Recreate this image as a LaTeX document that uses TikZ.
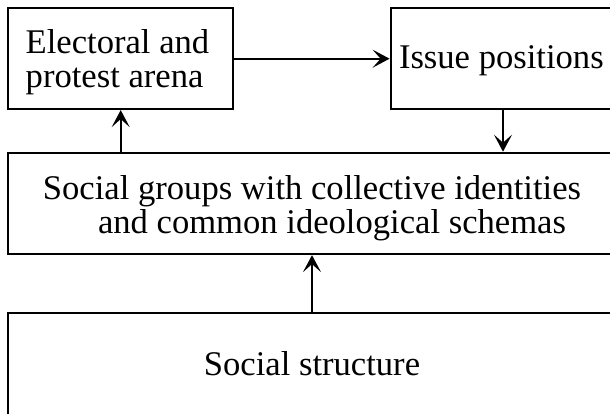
\documentclass[tikz,border=0pt]{standalone}
\usepackage{fontspec}
\setmainfont{Liberation Serif}
\usetikzlibrary{arrows.meta, positioning, calc}

\begin{document}
\begin{tikzpicture}[x=0.5pt, y=-0.5pt, line width=1pt,
  box/.style={draw, rectangle, inner sep=0pt, font=\fontsize{17.3}{17.3}\selectfont},
  smallbox/.style={box, minimum width=112.4pt, minimum height=50.4pt},
  widebox/.style={box, minimum width=303.7pt, minimum height=50.7pt},
  arr/.style={-{Stealth[length=8.5pt, width=9pt, inset=4pt]}}]
\clip (0,0) rectangle (610,413);
\node[smallbox, text width=95pt, inner xsep=8.5pt, align=flush left] (elect) at (120.7,58.7)
  {\baselineskip=14pt \rule{0pt}{15.5pt}Electoral and\\protest arena};
\node[smallbox, text width=104pt, inner xsep=4.2pt, align=flush left] (issue) at (503,58.7)
  {\rule{0pt}{13pt}Issue positions};
\node[widebox, align=center] (groups) at (312,203.4)
  {\baselineskip=16.5pt \rule{0pt}{17pt}Social groups with collective identities\\\hspace*{20pt}and common ideological schemas};
\node[widebox, minimum height=51pt] (struct) at (312,364) {Social structure};
\draw[arr] (elect.east) -- (issue.west);
\draw[arr] (groups.north -| elect.south) -- (elect.south);
\draw[arr] (issue.south) -- (issue.south |- groups.north);
\draw[arr] (struct.north) -- (groups.south);
\end{tikzpicture}
\end{document}
